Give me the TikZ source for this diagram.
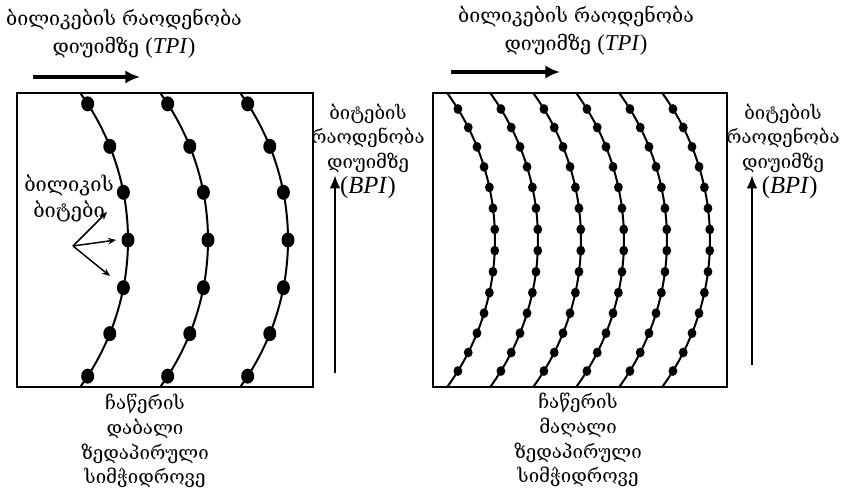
\documentclass[tikz,border=0pt]{standalone}
\usepackage{fontspec}
\setmainfont{DejaVu Serif}
\newfontfamily\lat{Liberation Serif}
\usetikzlibrary{arrows.meta}
\newcommand{\tpitext}{{\lat\fontsize{17}{21}\selectfont(\textit{TPI})}}
\newcommand{\bpitext}{{\lat\fontsize{18.5}{18.5}\selectfont(\textit{BPI})}}
\tikzset{
  frame/.style={line width=2.1pt},
  track/.style={line width=1.5pt},
  bigarrow/.style={line width=2.6pt,-{Latex[length=11pt,width=10pt]}},
  uparrow/.style={line width=1.8pt,-{Latex[length=10pt,width=8pt]}},
  thinarrow/.style={line width=1.1pt,-{Stealth[length=6pt,width=5pt]}},
  toplbl/.style={align=center,inner sep=0pt,font=\fontsize{14.7}{21}\selectfont},
  sidelbl/.style={align=center,inner sep=0pt,font=\fontsize{13.9}{18.5}\selectfont},
  bitslbl/.style={align=center,inner sep=0pt,font=\fontsize{15}{19.5}\selectfont},
  botlbl/.style={align=center,inner sep=0pt,font=\fontsize{14}{18.6}\selectfont},
}
\begin{document}
\begin{tikzpicture}[x=0.75pt,y=-0.75pt]
\useasboundingbox (0,0) rectangle (843,493);

% frames
\draw[frame] (17,93) rectangle (313,387);
\draw[frame] (433,93) rectangle (727,387);

% left tracks (low density)
\foreach \c in {-122,-42,38}{
  \draw[track] ({\c+250*cos(-36)},{240+250*sin(-36)}) arc[start angle=-36,end angle=36,radius=250];
  \foreach \a in {-33,-22,-11,0,11,22,33}
    \fill ({\c+250*cos(\a)},{240+250*sin(\a)}) ellipse [x radius=6.5,y radius=7.5];
}
% right tracks (high density)
\foreach \c in {245,288,331,374,417,460}{
  \draw[track] ({\c+250*cos(-36)},{240+250*sin(-36)}) arc[start angle=-36,end angle=36,radius=250];
  \foreach \k in {0,...,13}
    \fill ({\c+250*cos(-31.6+4.862*\k)},{240+250*sin(-31.6+4.862*\k)}) ellipse [x radius=4.4,y radius=4.9];
}

% top labels
\node[toplbl] (tpiL) at (124,34) {ბილიკების რაოდენობა\\დიუიმზე \tpitext};
\node[toplbl] (tpiR) at (576,31) {ბილიკების რაოდენობა\\დიუიმზე \tpitext};
\coordinate (tl1) at (33,77);  \coordinate (tl2) at (140,77);
\coordinate (tr1) at (451,72); \coordinate (tr2) at (560,72);
\draw[bigarrow] (tl1) -- (tl2);
\draw[bigarrow] (tr1) -- (tr2);

% side labels
\node[sidelbl] (bpiL) at (368,151) {ბიტების\\რაოდენობა\\დიუიმზე\\\bpitext};
\node[sidelbl] (bpiR) at (783,151) {ბიტების\\რაოდენობა\\დიუიმზე\\\hspace*{10pt}\bpitext};
\coordinate (bl1) at (335,373); \coordinate (bl2) at (335,175);
\coordinate (br1) at (752,365); \coordinate (br2) at (752,175);
\draw[uparrow] (bl1) -- (bl2);
\draw[uparrow] (br1) -- (br2);

% track bits label
\node[bitslbl] (bits) at (69,198) {ბილიკის\\ბიტები};
\coordinate (bo) at (73,246);
\coordinate (bt1) at (107,212);
\coordinate (bt2) at (116,240);
\coordinate (bt3) at (110,276);
\draw[thinarrow] (bo) -- (bt1);
\draw[thinarrow] (bo) -- (bt2);
\draw[thinarrow] (bo) -- (bt3);

% bottom labels
\node[botlbl] (lowL) at (145,441) {ჩაწერის\\დაბალი\\ზედაპირული\\სიმჭიდროვე};
\node[botlbl] (highR) at (578,440) {ჩაწერის\\მაღალი\\ზედაპირული\\სიმჭიდროვე};
\end{tikzpicture}
\end{document}
